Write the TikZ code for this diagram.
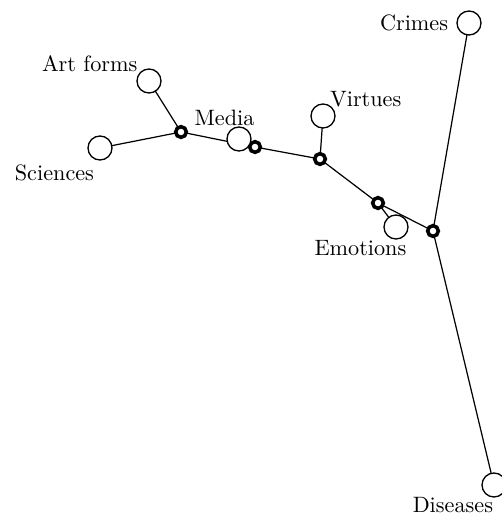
\documentclass[tikz,border=0pt]{standalone}
\usetikzlibrary{backgrounds}

\tikzset{
  leaf/.style={circle, draw, fill=white, line width=0.6pt, inner sep=0pt, minimum size=10.8pt},
  inner/.style={circle, draw, fill=white, line width=1.6pt, inner sep=0pt, minimum size=4.8pt},
  edge/.style={line width=0.55pt},
  every label/.style={inner sep=1pt}
}

\begin{document}
\begin{tikzpicture}[x=0.45pt, y=-0.45pt, label distance=0pt]
  \useasboundingbox (0,0) rectangle (502,518);
  % inner nodes
  \node[inner] (a) at (181,132) {};
  \node[inner] (b) at (255,147) {};
  \node[inner] (c) at (320,159) {};
  \node[inner] (d) at (378,203) {};
  \node[inner] (e) at (433,231) {};
  % leaves
  \node[leaf, label={[yshift=-1pt]above left:Art forms}] (art) at (149,81) {};
  \node[leaf, label={[xshift=-20.5pt, yshift=-0.5pt]below:Sciences}] (sci) at (100,148) {};
  \node[leaf, label={[xshift=-6.5pt, yshift=-1pt]above:Media}] (media) at (239,139) {};
  \node[leaf, label={[xshift=-2pt, yshift=-1pt]above right:Virtues}] (virt) at (323,116) {};
  \node[leaf, label={[xshift=-16pt, yshift=1pt]below:Emotions}] (emo) at (396,227) {};
  \node[leaf, label={[xshift=-2.5pt]left:Crimes}] (crime) at (469,23) {};
  \node[leaf, label={[xshift=-18.5pt, yshift=1.5pt]below:Diseases}] (dis) at (494,485) {};
  % edges
  \begin{pgfonlayer}{background}
    \draw[edge] (art.center) -- (a.center);
    \draw[edge] (sci.center) -- (a.center);
    \draw[edge] (a.center) -- (b.center);
    \draw[edge] (media.center) -- (b.center);
    \draw[edge] (b.center) -- (c.center);
    \draw[edge] (virt.center) -- (c.center);
    \draw[edge] (c.center) -- (d.center);
    \draw[edge] (emo.center) -- (d.center);
    \draw[edge] (d.center) -- (e.center);
    \draw[edge] (crime.center) -- (e.center);
    \draw[edge] (dis.center) -- (e.center);
  \end{pgfonlayer}
\end{tikzpicture}
\end{document}
